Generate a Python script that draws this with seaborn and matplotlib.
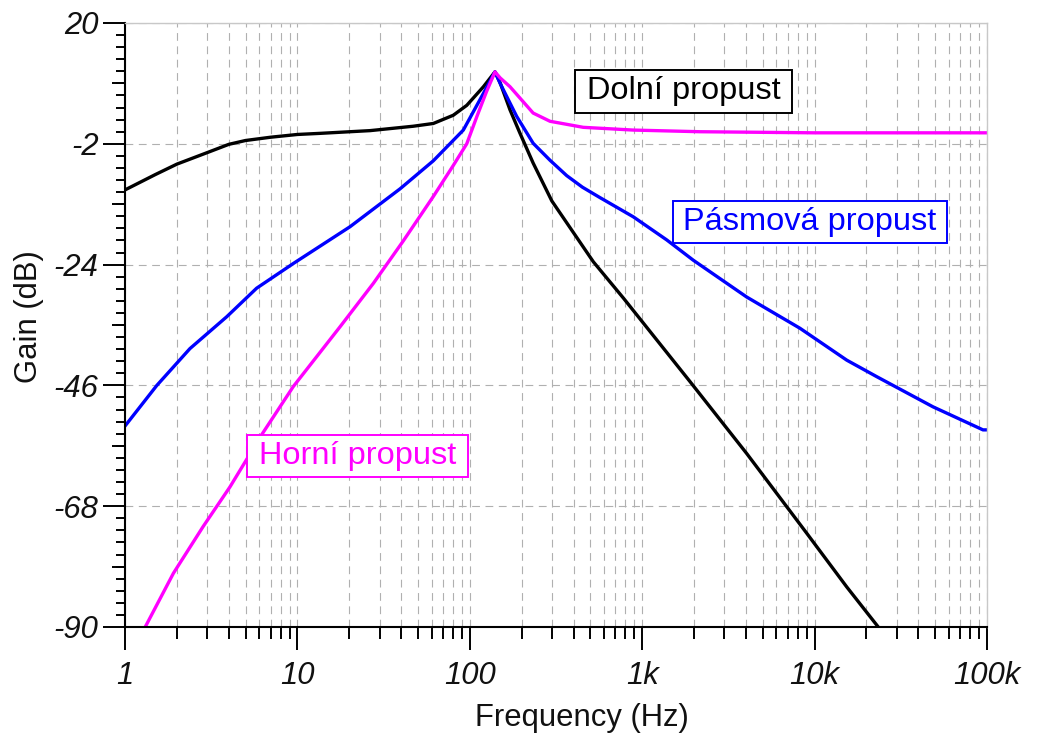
import numpy as np
import pandas as pd
import matplotlib
matplotlib.use('Agg')
import matplotlib.pyplot as plt
import seaborn as sns
from matplotlib.patches import Rectangle
from matplotlib.ticker import FixedLocator, NullFormatter, NullLocator

# values (Hz, dB)
freq_low = [1, 1.5, 2.0, 3.0, 4.0, 5.0, 7.0, 10, 13.5, 26.4, 47, 61.4, 80.2, 96, 120, 140,
            150, 171, 195, 233, 299, 521, 778, 1893, 4036, 8990, 15360, 23400]
gain_low = [-10.4, -7.6, -5.7, -3.6, -2.1, -1.4, -0.8, -0.3, -0.1, 0.4, 1.2, 1.7, 3.2, 5.0, 8.4, 11.1,
            9.1, 4.2, 0.0, -5.5, -12.4, -23.5, -30.1, -45.3, -58.4, -72.9, -82.7, -90]

freq_band = [1, 1.53, 2.38, 3.89, 5.8, 9.47, 20.2, 39.4, 61.4, 91.7, 120, 140,
             150, 187, 233, 292, 365, 450, 569, 888, 1387, 1978, 4036, 8230, 15360, 22900,
             48600, 94800, 100000]
gain_band = [-53.4, -46, -39.3, -33.5, -28.3, -23.8, -17.1, -10.2, -5.1, 0.5, 7.2, 11.1,
             9.0, 3.0, -1.9, -5.0, -7.8, -9.9, -11.8, -15.3, -19.5, -23.2, -29.9, -35.6, -41.4, -44.4,
             -49.9, -54.1, -54.1]

freq_high = [1.31, 1.91, 2.84, 4.06, 6.2, 9.47, 17.7, 27.6, 41.1, 61.4, 80, 96, 110, 125, 140,
             150, 171, 233, 292, 455, 888, 2160, 10000, 100000]
gain_high = [-90, -80.2, -71.7, -64.5, -55.0, -46.2, -35.3, -27.4, -19.7, -11.6, -6.0, -2.0, 3.0, 7.5, 11.1,
             10.0, 8.4, 3.6, 2.1, 1.0, 0.5, 0.2, 0.0, 0.0]

names = ['Dolní propust', 'Pásmová propust', 'Horní propust']
colors = ['#000000', '#0000ff', '#ff00ff']

x_ticks = [1, 10, 100, 1000, 10000, 100000]
x_labels = ['1', '10', '100', '1k', '10k', '100k']
y_ticks = [20, -2, -24, -46, -68, -90]
y_labels = ['20', '-2', '-24', '-46', '-68', '-90']

sns.set_style('white')
plt.rcParams['font.family'] = ['Liberation Sans', 'DejaVu Sans']

df = pd.concat([
    pd.DataFrame({'Frequency': freq_low, 'Gain': gain_low, 'Filter': names[0]}),
    pd.DataFrame({'Frequency': freq_band, 'Gain': gain_band, 'Filter': names[1]}),
    pd.DataFrame({'Frequency': freq_high, 'Gain': gain_high, 'Filter': names[2]}),
], ignore_index=True)

W, H = 1046, 742
fig = plt.figure(figsize=(W / 100, H / 100), dpi=100)
ax = fig.add_axes([125 / W, 1 - 627 / H, 862 / W, 604 / H])

sns.lineplot(data=df, x='Frequency', y='Gain', hue='Filter', hue_order=names,
             palette=dict(zip(names, colors)), sort=False, estimator=None,
             lw=2.4, legend=False, ax=ax)

ax.set_xscale('log')
ax.set_xlim(1, 1e5)
ax.set_ylim(-90, 20)

ax.xaxis.set_major_locator(FixedLocator(x_ticks))
ax.set_xticklabels(x_labels)
minor_x = [m * d for d in x_ticks[:-1] for m in range(2, 10)]
ax.xaxis.set_minor_locator(FixedLocator(minor_x))
ax.xaxis.set_minor_formatter(NullFormatter())

ax.yaxis.set_major_locator(FixedLocator(y_ticks))
ax.set_yticklabels(y_labels)
minor_y = [-90 + 2.2 * i for i in range(51)]
ax.yaxis.set_minor_locator(FixedLocator(minor_y))

ax.tick_params(axis='both', which='both', bottom=True, left=True, top=False, right=False)
ax.tick_params(axis='x', which='major', direction='out', length=16.5, width=1.4,
               color='black', pad=8, labelsize=22.3)
ax.tick_params(axis='x', which='minor', direction='out', length=8.5, width=1.4, color='black')
ax.tick_params(axis='y', which='major', direction='out', length=16, width=1.4,
               color='black', pad=3, labelsize=22.3)
ax.tick_params(axis='y', which='minor', direction='out', length=6.5, width=1.4, color='black')
for lab in ax.get_xticklabels() + ax.get_yticklabels():
    lab.set_style('italic')
    lab.set_color('#111111')

# medium ticks halfway between the labelled ones
sec = ax.secondary_yaxis('left')
sec.yaxis.set_major_locator(FixedLocator([9, -13, -35, -57, -79]))
sec.yaxis.set_major_formatter(NullFormatter())
sec.yaxis.set_minor_locator(NullLocator())
sec.tick_params(axis='y', left=True, length=9.5, width=1.4, color='black')
sec.spines['left'].set_visible(False)

grid_kw = dict(color='#b0b0b0', lw=0.8, linestyle=(0, (7, 5)))
ax.xaxis.grid(True, which='both', **grid_kw)
ax.yaxis.grid(True, which='major', **grid_kw)
ax.set_axisbelow(True)

for side in ['left', 'bottom']:
    ax.spines[side].set_color('black')
    ax.spines[side].set_linewidth(1.5)
for side in ['top', 'right']:
    ax.spines[side].set_color('#c8c8c8')
    ax.spines[side].set_linewidth(1.0)

ax.set_xlabel('Frequency (Hz)', fontsize=22.3, color='#111111')
ax.set_ylabel('Gain (dB)', fontsize=22.3, color='#111111')
ax.xaxis.set_label_coords((582 - 125) / 862, (627 - 703) / 604)
ax.yaxis.set_label_coords((44 - 125) / 862, (627 - 317) / 604)

# labelled boxes (pixel extents of the reference)
boxes = [(575, 70, 792, 113), (673, 201, 947, 243), (247, 435, 468, 477)]
centers = [(683.5, 91.5), (810, 222), (357.5, 456)]
for (x0, y0, x1, y1), (tx, ty), name, c in zip(boxes, centers, names, colors):
    ax.add_patch(Rectangle(((x0 - 125) / 862, (627 - y1) / 604), (x1 - x0) / 862, (y1 - y0) / 604,
                           transform=ax.transAxes, fc='white', ec=c, lw=1.4, zorder=5))
    ax.text((tx - 125) / 862, (627 - ty) / 604, name, transform=ax.transAxes, color=c,
            fontsize=23.4, ha='center', va='center', zorder=6)

fig.savefig('out.png', dpi=100)
